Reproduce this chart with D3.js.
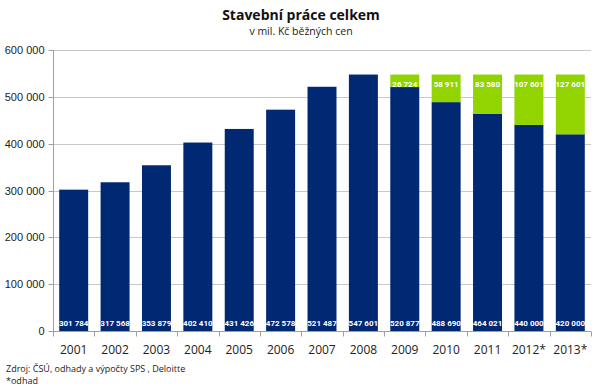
<!DOCTYPE html>
<html>
<head>
<meta charset="utf-8">
<script src="https://cdn.jsdelivr.net/npm/d3@7"></script>
<style>
body { margin: 0; background: #fff; }
svg { font-family: "Open Sans", "Liberation Sans", sans-serif; }
.grid line { stroke: #c8c8c8; }
.val { font-family: Roboto, "Liberation Sans", sans-serif; }
</style>
</head>
<body>
<div class="chart"></div>
<script>
var years = ["2001","2002","2003","2004","2005","2006","2007","2008","2009","2010","2011","2012*","2013*"];
var base = [301784,317568,353879,402410,431426,472578,521487,547601,520877,488690,464021,440000,420000];
var gap = [0,0,0,0,0,0,0,0,26724,58911,83580,107601,127601];
var yTicks = [0,100000,200000,300000,400000,500000,600000];

var w = 600, h = 390;
var padLeft = 53, padRight = 591, padTop = 50, padBottom = 331;
var navy = "#002873";
var green = "#92d400";

var svg = d3.select(".chart").append("svg")
    .attr("width", w)
    .attr("height", h);

var xScale = d3.scaleBand()
    .domain(years)
    .range([padLeft, padRight])
    .paddingInner(0.3)
    .paddingOuter(0.15);

var yScale = d3.scaleLinear()
    .domain([0, 600000])
    .range([padBottom, padTop]);

var fmt = function(d){ return d3.format(",")(d).replace(/,/g, " "); };

// gridlines
svg.append("g").attr("class","grid")
    .selectAll("line")
    .data(yTicks.slice(1))
    .enter()
    .append("line")
    .attr("x1", padLeft)
    .attr("x2", padRight)
    .attr("y1", d => Math.round(yScale(d)) + 0.5)
    .attr("y2", d => Math.round(yScale(d)) + 0.5);

// y axis
var yAxis = svg.append("g")
    .attr("transform", "translate(" + (padLeft + 0.5) + ",0)")
    .call(d3.axisLeft(yScale).tickValues(yTicks).tickSize(5).tickPadding(4).tickFormat(fmt));
yAxis.selectAll("line, path").attr("stroke", "#a0a0a0");
yAxis.selectAll(".tick").attr("transform", d => "translate(0," + (Math.round(yScale(d)) + 0.5) + ")");
yAxis.select(".domain").attr("d", "M0," + padTop + "V" + padBottom);
yAxis.selectAll("text").attr("font-size", 11).attr("fill", "#222");

// bars
svg.selectAll(".base")
    .data(base)
    .enter()
    .append("rect")
    .attr("class","base")
    .attr("x", (d,i) => xScale(years[i]))
    .attr("y", d => yScale(d))
    .attr("width", xScale.bandwidth())
    .attr("height", d => padBottom - yScale(d))
    .attr("fill", navy);

var stacked = gap.map((d,i) => ({year: years[i], lo: base[i], hi: base[i] + d, v: d})).filter(d => d.v > 0);

svg.selectAll(".gap")
    .data(stacked)
    .enter()
    .append("rect")
    .attr("class","gap")
    .attr("x", d => xScale(d.year))
    .attr("y", d => yScale(d.hi))
    .attr("width", xScale.bandwidth())
    .attr("height", d => yScale(d.lo) - yScale(d.hi))
    .attr("fill", green);

// x axis
var xAxis = svg.append("g")
    .attr("transform", "translate(0," + (padBottom + 0.5) + ")");
xAxis.append("line")
    .attr("x1", padLeft).attr("x2", padRight)
    .attr("stroke", "#a0a0a0");
xAxis.selectAll(".tick")
    .data(d3.range(years.length + 1))
    .enter()
    .append("line")
    .attr("x1", i => Math.round(padLeft + i * xScale.step()) + 0.5)
    .attr("x2", i => Math.round(padLeft + i * xScale.step()) + 0.5)
    .attr("y1", 0).attr("y2", 5)
    .attr("stroke", "#a0a0a0");
xAxis.selectAll("text")
    .data(years)
    .enter()
    .append("text")
    .attr("x", d => xScale(d) + xScale.bandwidth() / 2)
    .attr("y", 22)
    .attr("text-anchor", "middle")
    .attr("font-size", 12)
    .attr("fill", "#222")
    .text(d => d);

// value labels
svg.selectAll(".lbl")
    .data(base)
    .enter()
    .append("text")
    .attr("class", "val")
    .attr("x", (d,i) => xScale(years[i]) + xScale.bandwidth() / 2)
    .attr("y", padBottom - 5)
    .attr("text-anchor", "middle")
    .attr("font-size", 8)
    .attr("font-weight", "bold")
    .attr("fill", "#fff")
    .text(d => fmt(d));

svg.selectAll(".glbl")
    .data(stacked)
    .enter()
    .append("text")
    .attr("class", "val")
    .attr("x", d => xScale(d.year) + xScale.bandwidth() / 2)
    .attr("y", d => yScale(d.hi) + 12)
    .attr("text-anchor", "middle")
    .attr("font-size", 8)
    .attr("font-weight", "bold")
    .attr("fill", "#fff")
    .text(d => fmt(d.v));

// titles
svg.append("text")
    .attr("x", 301).attr("y", 20)
    .attr("text-anchor", "middle")
    .attr("font-size", 14)
    .attr("font-weight", "bold")
    .attr("fill", "#111")
    .text("Stavební práce celkem");
svg.append("text")
    .attr("x", 301).attr("y", 35)
    .attr("text-anchor", "middle")
    .attr("font-size", 10.5)
    .attr("fill", "#222")
    .text("v mil. Kč běžných cen");

svg.append("text")
    .attr("x", 6).attr("y", 372)
    .attr("font-size", 9)
    .attr("fill", "#222")
    .text("Zdroj: ČSÚ, odhady a výpočty SPS , Deloitte");
svg.append("text")
    .attr("x", 6).attr("y", 384)
    .attr("font-size", 9)
    .attr("fill", "#222")
    .text("*odhad");
</script>
</body>
</html>
